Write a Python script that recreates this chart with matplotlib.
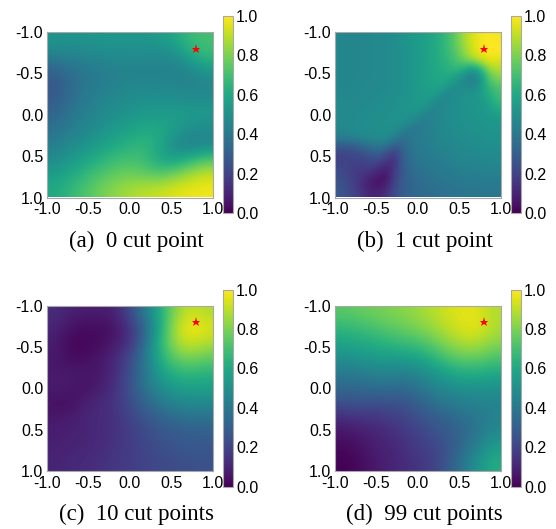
import matplotlib

matplotlib.use("Agg")

import matplotlib.pyplot as plt
import numpy as np

plt.rcParams["font.family"] = ["Liberation Sans", "DejaVu Sans"]
plt.rcParams["axes.unicode_minus"] = False

# rows run y=-1..1 (top to bottom), columns x=-1..1, step 0.2 (0.1 for grid_b)
grid_a = [
    [.52, .52, .52, .53, .53, .53, .53, .55, .60, .68, .70],
    [.45, .46, .47, .48, .49, .49, .49, .48, .50, .62, .68],
    [.32, .37, .40, .42, .44, .44, .44, .44, .44, .46, .55],
    [.27, .34, .39, .42, .44, .46, .46, .46, .45, .44, .45],
    [.28, .36, .41, .45, .47, .49, .50, .50, .50, .49, .49],
    [.33, .38, .43, .47, .50, .52, .54, .55, .55, .55, .54],
    [.37, .42, .46, .50, .54, .57, .60, .60, .56, .50, .48],
    [.42, .47, .51, .56, .60, .64, .66, .60, .47, .42, .46],
    [.48, .53, .58, .63, .68, .70, .68, .58, .56, .64, .72],
    [.55, .60, .66, .72, .76, .78, .76, .74, .80, .87, .92],
    [.60, .66, .72, .78, .83, .87, .90, .92, .95, .97, .98],
]
grid_b = [
    [.46, .46, .46, .46, .47, .47, .48, .49, .51, .53, .55, .57, .60, .64, .70, .78, .88, .95, .98, .99, .98],
    [.46, .46, .46, .46, .47, .47, .48, .49, .51, .53, .55, .57, .60, .64, .70, .78, .87, .95, .99, 1.0, .99],
    [.46, .46, .46, .46, .47, .47, .48, .49, .50, .52, .55, .57, .60, .64, .69, .76, .85, .93, .98, 1.0, 1.0],
    [.46, .46, .46, .46, .47, .47, .48, .49, .50, .52, .55, .57, .60, .63, .67, .73, .80, .88, .94, .97, .96],
    [.46, .46, .46, .46, .47, .47, .48, .49, .50, .52, .55, .57, .59, .62, .65, .68, .66, .62, .72, .88, .90],
    [.46, .46, .46, .46, .47, .47, .48, .49, .50, .52, .55, .57, .59, .61, .62, .58, .50, .44, .55, .76, .84],
    [.46, .46, .46, .47, .47, .47, .48, .49, .50, .52, .55, .57, .58, .60, .55, .50, .46, .42, .52, .70, .76],
    [.46, .46, .46, .47, .47, .48, .48, .49, .50, .52, .54, .56, .57, .54, .47, .49, .50, .50, .56, .64, .70],
    [.47, .47, .47, .47, .48, .48, .49, .50, .51, .52, .54, .55, .53, .46, .47, .50, .51, .52, .54, .60, .68],
    [.47, .47, .47, .48, .48, .49, .49, .50, .51, .52, .54, .52, .45, .46, .49, .50, .51, .52, .53, .56, .62],
    [.47, .47, .48, .48, .49, .49, .50, .51, .51, .52, .51, .44, .44, .47, .49, .50, .51, .52, .52, .54, .57],
    [.47, .47, .48, .49, .49, .50, .50, .51, .51, .48, .42, .42, .45, .47, .48, .50, .51, .51, .52, .52, .53],
    [.46, .47, .48, .49, .49, .50, .50, .50, .44, .39, .41, .43, .45, .46, .48, .49, .50, .51, .51, .52, .52],
    [.42, .43, .44, .46, .47, .48, .48, .42, .36, .39, .41, .43, .44, .46, .47, .48, .49, .50, .50, .51, .51],
    [.28, .29, .31, .35, .38, .41, .38, .30, .33, .38, .41, .42, .44, .45, .46, .47, .48, .49, .49, .50, .50],
    [.20, .21, .22, .24, .28, .30, .24, .16, .30, .37, .40, .41, .43, .44, .45, .46, .47, .47, .48, .48, .48],
    [.20, .20, .20, .20, .22, .21, .15, .13, .29, .35, .39, .40, .41, .42, .44, .45, .45, .46, .46, .47, .47],
    [.22, .20, .18, .17, .17, .12, .08, .16, .28, .34, .37, .39, .40, .41, .42, .43, .44, .44, .44, .45, .45],
    [.24, .22, .18, .14, .10, .06, .05, .18, .28, .33, .36, .37, .39, .40, .40, .41, .42, .42, .42, .43, .43],
    [.26, .23, .18, .12, .07, .05, .09, .21, .29, .32, .35, .36, .37, .38, .39, .40, .40, .40, .41, .41, .41],
    [.27, .24, .20, .15, .10, .10, .14, .23, .29, .32, .34, .35, .36, .37, .38, .38, .39, .39, .39, .39, .39],
]
grid_c = [
    [.13, .09, .08, .08, .09, .22, .42, .62, .82, .92, .88],
    [.10, .05, .03, .03, .05, .14, .32, .60, .88, 1.0, .95],
    [.08, .02, .01, .03, .07, .14, .36, .66, .85, .93, .88],
    [.07, .03, .03, .06, .11, .22, .40, .62, .76, .80, .76],
    [.07, .07, .07, .06, .12, .24, .40, .56, .64, .66, .64],
    [.08, .07, .04, .08, .14, .25, .38, .48, .55, .57, .56],
    [.04, .03, .09, .12, .15, .23, .32, .40, .45, .47, .47],
    [.07, .08, .10, .12, .14, .20, .26, .31, .35, .37, .37],
    [.08, .09, .10, .12, .14, .18, .22, .26, .28, .30, .30],
    [.09, .10, .11, .12, .15, .18, .21, .24, .26, .27, .27],
    [.10, .11, .12, .14, .16, .18, .20, .22, .23, .24, .25],
]
grid_d = [
    [.74, .76, .78, .80, .82, .85, .89, .93, .96, .95, .88],
    [.66, .68, .71, .74, .77, .80, .85, .90, .95, .96, .88],
    [.58, .60, .62, .65, .68, .70, .76, .83, .88, .88, .82],
    [.50, .52, .54, .55, .56, .58, .64, .72, .76, .76, .72],
    [.40, .42, .44, .45, .44, .46, .52, .58, .62, .62, .60],
    [.34, .34, .35, .36, .34, .38, .44, .48, .50, .51, .50],
    [.24, .25, .24, .24, .25, .30, .36, .40, .43, .44, .45],
    [.12, .14, .15, .17, .20, .24, .28, .32, .36, .40, .44],
    [.05, .07, .09, .12, .15, .20, .24, .28, .33, .40, .48],
    [.02, .04, .08, .10, .13, .17, .20, .26, .35, .46, .56],
    [.00, .02, .06, .09, .12, .15, .19, .28, .40, .52, .62],
]
captions = ["(a)  0 cut point", "(b)  1 cut point", "(c)  10 cut points", "(d)  99 cut points"]
star_x = 0.8
star_y = -0.8
ticks = [-1.0, -0.5, 0.0, 0.5, 1.0]
cbar_ticks = [0.0, 0.2, 0.4, 0.6, 0.8, 1.0]

W, H = 556, 529
EDGE = "#a8a8a8"


def px_axes(fig, left, top, right, bottom):
    return fig.add_axes([left / W, 1 - bottom / H, (right - left) / W, (bottom - top) / H])


def draw_panel(fig, grid, caption, left, top):
    ax = px_axes(fig, left, top, left + 166, top + 165.5)
    im = ax.imshow(
        np.array(grid),
        cmap="viridis",
        vmin=0,
        vmax=1,
        extent=[-1, 1, 1, -1],
        interpolation="bicubic",
        aspect="auto",
    )
    ax.plot(star_x, star_y, marker="*", color="red", ms=6.5, mew=0)
    ax.set_xlim(-1, 1)
    ax.set_ylim(1, -1)
    ax.set_xticks(ticks)
    ax.set_yticks(ticks)
    ax.tick_params(length=0, labelsize=11.5, colors="black")
    ax.tick_params(axis="x", pad=3.5)
    ax.tick_params(axis="y", pad=2.5)
    for spine in ax.spines.values():
        spine.set_color(EDGE)
        spine.set_linewidth(0.8)

    cax = px_axes(fig, left + 176.5, top - 16, left + 186.5, top + 181)
    cb = fig.colorbar(im, cax=cax)
    cb.set_ticks(cbar_ticks)
    cb.ax.tick_params(length=0, labelsize=11.5, pad=2, colors="black")
    cb.outline.set_edgecolor(EDGE)
    cb.outline.set_linewidth(0.8)

    fig.text(
        (left + 90) / W,
        1 - (top + 209) / H,
        caption,
        ha="center",
        va="center",
        fontsize=16.5,
        family="Liberation Serif",
        color="black",
    )


fig = plt.figure(figsize=(W / 100, H / 100), dpi=100)
draw_panel(fig, grid_a, captions[0], 46.7, 32)
draw_panel(fig, grid_b, captions[1], 334.7, 32)
draw_panel(fig, grid_c, captions[2], 46.7, 305.7)
draw_panel(fig, grid_d, captions[3], 334.7, 305.7)
fig.savefig("out.png", dpi=100)
